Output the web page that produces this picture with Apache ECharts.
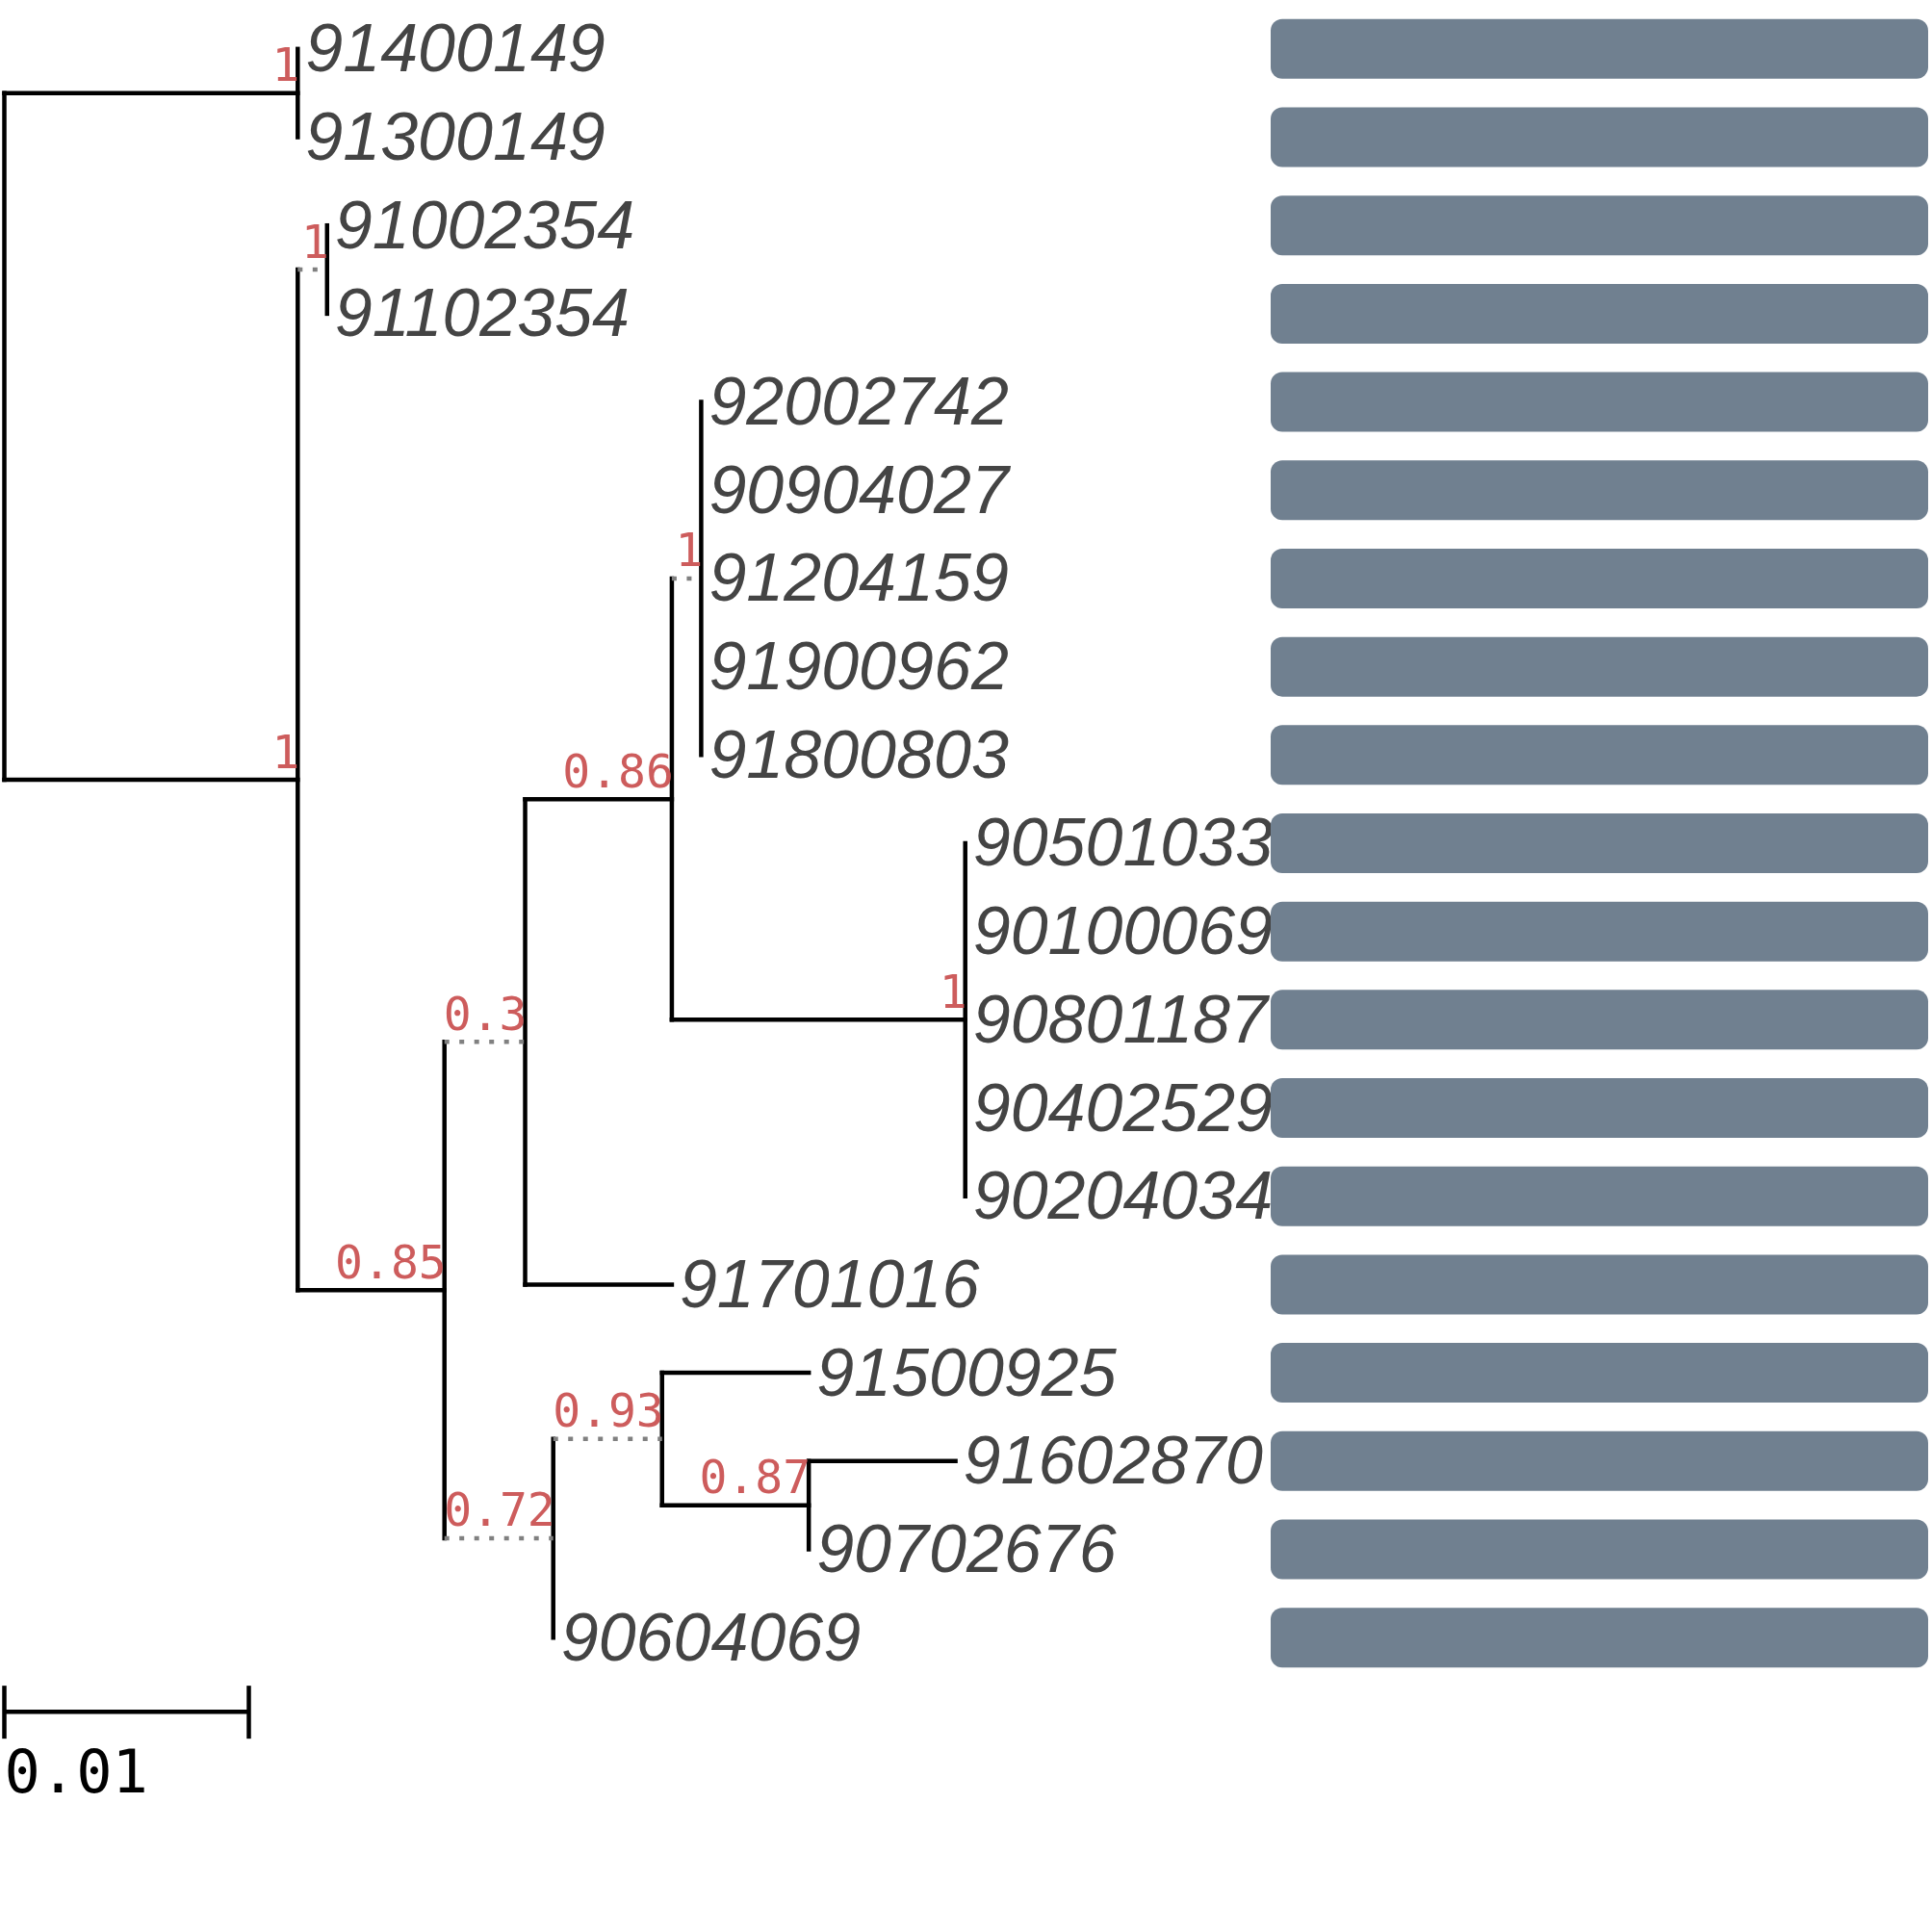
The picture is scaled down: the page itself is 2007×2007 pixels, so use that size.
<!DOCTYPE html>
<html>
<head>
<meta charset="utf-8">
<script src="https://cdn.jsdelivr.net/npm/echarts@6/dist/echarts.min.js"></script>
<style>
html, body { margin: 0; padding: 0; background: #fff; }
#main { width: 2007px; height: 2007px; }
</style>
</head>
<body>
<div id="main"></div>
<script>
// tips, top to bottom
var tipNames = ['91400149', '91300149', '91002354', '91102354', '92002742', '90904027', '91204159',
  '91900962', '91800803', '90501033', '90100069', '90801187', '90402529', '90204034', '91701016',
  '91500925', '91602870', '90702676', '90604069'];
var tipParents = ['n1', 'n1', 'n3', 'n3', 'n7', 'n7', 'n7', 'n7', 'n7', 'n8', 'n8', 'n8', 'n8', 'n8',
  'n5', 'n10', 'n11', 'n11', 'n9'];
var tipLengths = [0, 0, 0, 0, 0, 0, 0, 0, 0, 0, 0, 0, 0, 0, 0.006, 0.006, 0.006, 0, 0];

// internal nodes (parents listed before children)
var nodeIds = ['n0', 'n1', 'n2', 'n3', 'n4', 'n5', 'n6', 'n7', 'n8', 'n9', 'n10', 'n11'];
var nodeParents = [null, 'n0', 'n0', 'n2', 'n2', 'n4', 'n5', 'n6', 'n6', 'n4', 'n9', 'n10'];
var nodeLengths = [0, 0.012, 0.012, 0.0012, 0.006, 0.0033, 0.006, 0.0012, 0.012, 0.00445, 0.00445, 0.006];
var nodeSupport = ['', '1', '1', '1', '0.85', '0.3', '0.86', '1', '1', '0.72', '0.93', '0.87'];
var nodeDotted = [false, false, false, true, false, true, false, true, false, true, true, false];

// bar track next to each tip
var barValues = [1, 1, 1, 1, 1, 1, 1, 1, 1, 1, 1, 1, 1, 1, 1, 1, 1, 1, 1];

var scaleBarLength = 0.01;

// ---- layout of the tree ----
var idx = {};
nodeIds.forEach(function (id, i) { idx[id] = i; });
var nodeX = [], nodeY = [], childYs = [];
nodeIds.forEach(function (id, i) {
  var p = nodeParents[i];
  nodeX[i] = p === null ? 0 : nodeX[idx[p]] + nodeLengths[i];
  childYs[i] = [];
});
var tipX = tipNames.map(function (n, i) { return nodeX[idx[tipParents[i]]] + tipLengths[i]; });
tipNames.forEach(function (n, i) { childYs[idx[tipParents[i]]].push(i); });
for (var i = nodeIds.length - 1; i >= 0; i--) {
  var ys = childYs[i];
  nodeY[i] = (Math.min.apply(null, ys) + Math.max.apply(null, ys)) / 2;
  if (nodeParents[i] !== null) childYs[idx[nodeParents[i]]].push(nodeY[i]);
}

var segments = [];   // [x1, y1, x2, y2, dotted]
var supports = [];   // [x, y, text]
nodeIds.forEach(function (id, i) {
  var ys = childYs[i];
  segments.push([nodeX[i], Math.min.apply(null, ys), nodeX[i], Math.max.apply(null, ys), 0]);
  if (nodeParents[i] !== null) {
    segments.push([nodeX[idx[nodeParents[i]]], nodeY[i], nodeX[i], nodeY[i], nodeDotted[i] ? 1 : 0]);
  }
  if (nodeSupport[i] !== '') supports.push([nodeX[i], nodeY[i], nodeSupport[i]]);
});
tipNames.forEach(function (n, i) {
  segments.push([nodeX[idx[tipParents[i]]], i, tipX[i], i, 0]);
});
var tipData = tipNames.map(function (n, i) { return [tipX[i], i, n]; });

// 0.01 substitutions = 254 px
var treeWidth = 2000;
var treeMax = treeWidth / 25400;

var chart = echarts.init(document.getElementById('main'));
var option = {
  animation: false,
  backgroundColor: '#fff',
  grid: [
    { left: 4.5, top: 5, width: treeWidth, height: 1742 },
    { left: 1320, top: 5, width: 683, height: 1742 }
  ],
  xAxis: [
    { gridIndex: 0, type: 'value', min: 0, max: treeMax, show: false },
    { gridIndex: 1, type: 'value', min: 0, max: 1, show: false }
  ],
  yAxis: [
    { gridIndex: 0, type: 'value', min: -0.5, max: tipNames.length - 0.5, inverse: true, show: false },
    { gridIndex: 1, type: 'category', data: tipNames, inverse: true, show: false }
  ],
  series: [
    {
      type: 'custom',
      xAxisIndex: 0, yAxisIndex: 0,
      z: 2,
      data: segments,
      renderItem: function (params, api) {
        var p1 = api.coord([api.value(0), api.value(1)]);
        var p2 = api.coord([api.value(2), api.value(3)]);
        var dotted = api.value(4) === 1;
        return {
          type: 'line',
          shape: { x1: p1[0], y1: p1[1], x2: p2[0], y2: p2[1] },
          style: dotted
            ? { stroke: '#808080', lineWidth: 4.5, lineDash: [5, 10.5], lineCap: 'butt' }
            : { stroke: '#000', lineWidth: 4.5, lineCap: 'square' }
        };
      }
    },
    {
      type: 'custom',
      xAxisIndex: 0, yAxisIndex: 0,
      z: 3,
      data: supports,
      renderItem: function (params, api) {
        var p = api.coord([api.value(0), api.value(1)]);
        return {
          type: 'text',
          style: {
            text: supports[params.dataIndex][2],
            x: p[0] + 2, y: p[1] - 25,
            align: 'right', verticalAlign: 'middle',
            textAlign: 'right', textVerticalAlign: 'middle',
            font: '48px "DejaVu Sans Mono"',
            fill: '#cd5c5c'
          }
        };
      }
    },
    {
      type: 'custom',
      xAxisIndex: 0, yAxisIndex: 0,
      z: 3,
      data: tipData,
      renderItem: function (params, api) {
        var p = api.coord([api.value(0), api.value(1)]);
        return {
          type: 'text',
          style: {
            text: tipNames[params.dataIndex],
            x: p[0] + 8, y: p[1] + 4,
            align: 'left', verticalAlign: 'middle',
            textAlign: 'left', textVerticalAlign: 'middle',
            font: 'italic 70px "Liberation Sans"',
            fill: '#444444'
          }
        };
      }
    },
    {
      type: 'custom',
      xAxisIndex: 0, yAxisIndex: 0,
      z: 3,
      data: [[0, scaleBarLength]],
      renderItem: function (params, api) {
        var last = tipNames.length - 1;
        var a = api.coord([api.value(0), last]);
        var b = api.coord([api.value(1), last]);
        var y = a[1] + 77;
        var st = { stroke: '#000', lineWidth: 4.5 };
        return {
          type: 'group',
          children: [
            { type: 'line', shape: { x1: a[0], y1: y, x2: b[0], y2: y }, style: st },
            { type: 'line', shape: { x1: a[0], y1: y - 27, x2: a[0], y2: y + 28 }, style: st },
            { type: 'line', shape: { x1: b[0], y1: y - 27, x2: b[0], y2: y + 28 }, style: st },
            {
              type: 'text',
              style: {
                text: String(scaleBarLength),
                x: a[0], y: y + 68,
                align: 'left', verticalAlign: 'middle',
                textAlign: 'left', textVerticalAlign: 'middle',
                font: '62px "DejaVu Sans Mono"',
                fill: '#000'
              }
            }
          ]
        };
      }
    },
    {
      type: 'bar',
      xAxisIndex: 1, yAxisIndex: 1,
      z: 5,
      data: barValues,
      barWidth: 62,
      itemStyle: { color: '#708090', borderRadius: 12 },
      silent: true
    }
  ]
};
chart.setOption(option);
</script>
</body>
</html>
